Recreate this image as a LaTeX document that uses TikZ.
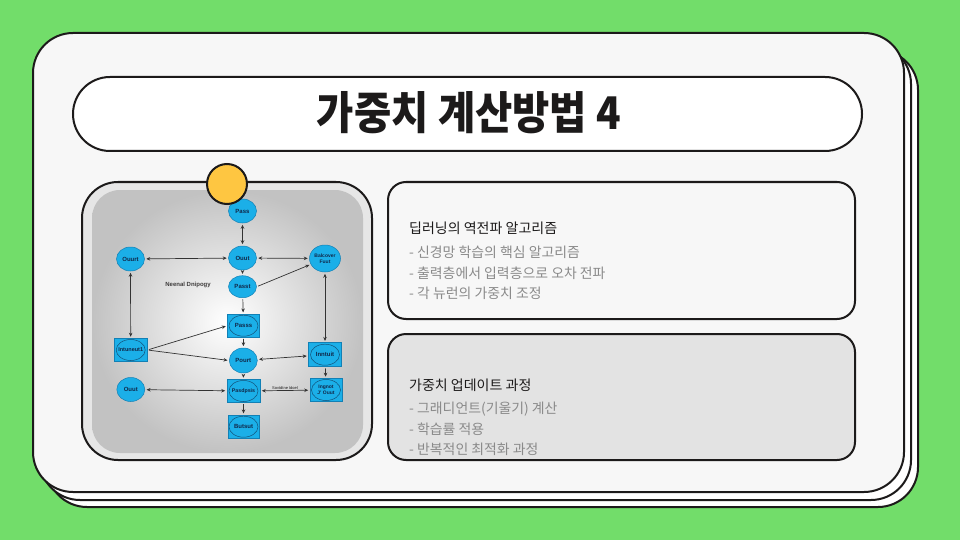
\documentclass[tikz,border=0pt]{standalone}
\usepackage{fontspec}
\setmainfont{Liberation Sans}
\newfontfamily\krfont{Noto Sans CJK KR}
\newfontfamily\krtitle{Noto Sans CJK KR Black}[FakeStretch=0.9]
\usetikzlibrary{shapes.geometric,arrows.meta}
\definecolor{bggreen}{HTML}{72DD6A}
\definecolor{cardfill}{HTML}{F7F7F7}
\definecolor{ink}{HTML}{1C1A1A}
\definecolor{boxtwo}{HTML}{E3E3E3}
\definecolor{panelfill}{HTML}{E6E6E6}
\definecolor{sun}{HTML}{FEC641}
\definecolor{nblue}{HTML}{1BAFE8}
\definecolor{nedge}{HTML}{1280B5}
\definecolor{ntext}{HTML}{10284A}
\definecolor{bulletgray}{HTML}{8A8A8A}
\definecolor{wire}{HTML}{333333}
\tikzset{
  card/.style={fill=cardfill, draw=ink, line width=2pt, rounded corners=40pt},
  infobox/.style={draw=ink, line width=2pt, rounded corners=18pt},
  ell/.style={ellipse, fill=nblue, draw=nedge, line width=0.5pt, minimum width=28pt, minimum height=24pt, inner sep=0pt,
    font=\fontsize{6}{6.5}\selectfont\bfseries, text=ntext, align=center},
  sqr/.style={rectangle, fill=nblue, draw=nedge, line width=0.5pt, minimum width=32pt, minimum height=23pt, inner sep=0pt,
    font=\fontsize{6}{6.5}\selectfont\bfseries, text=ntext, align=center,
    path picture={\draw[ntext!70!nblue, line width=0.5pt] (path picture bounding box.center) ellipse [x radius=14.5pt, y radius=10.5pt];}},
  wr/.style={draw=wire, line width=0.7pt, shorten >=1.5pt, shorten <=1.5pt},
  one/.style={wr, -{Stealth[length=4pt, width=3.5pt]}},
  two/.style={wr, {Stealth[length=4pt, width=3.5pt]}-{Stealth[length=4pt, width=3.5pt]}},
  headtxt/.style={anchor=west, inner sep=0pt, font=\krfont\fontsize{14}{16}\selectfont, text=ink},
  bultxt/.style={anchor=west, inner sep=0pt, font=\krfont\fontsize{13.9}{16}\selectfont, text=bulletgray}
}
\begin{document}
\begin{tikzpicture}[x=1pt, y=-1pt]
\fill[bggreen] (0,0) rectangle (960,540);
\useasboundingbox (0,0) rectangle (960,540);
% stacked cards
\draw[card, fill=white] (47,50) rectangle (918,507);
\draw[card, fill=white] (40,44) rectangle (911,500);
\draw[card] (33,33) rectangle (904,492);
% title pill
\draw[fill=white, draw=ink, line width=2pt, rounded corners=37pt] (73,77) rectangle (862,151);
\node[font=\krtitle\fontsize{45}{47}\selectfont, text=ink] (title) at (469,113) {가중치 계산방법 4};
% image panel
\draw[fill=panelfill, draw=ink, line width=2pt, rounded corners=36pt] (82,182) rectangle (372,460);
\shade[inner color=white, outer color=black!24, rounded corners=28pt] (92,190) rectangle (363,453);
% info boxes
\draw[infobox, fill=cardfill] (388,182) rectangle (855,319);
\draw[infobox, fill=boxtwo] (388,334) rectangle (855,460);
\node[headtxt] (h1) at (409,228) {딥러닝의 역전파 알고리즘};
\node[bultxt] (b11) at (409,252) {- 신경망 학습의 핵심 알고리즘};
\node[bultxt] (b12) at (409,273) {- 출력층에서 입력층으로 오차 전파};
\node[bultxt] (b13) at (409,293) {- 각 뉴런의 가중치 조정};
\node[headtxt] (h2) at (409,385) {가중치 업데이트 과정};
\node[bultxt] (b21) at (409,409) {- 그래디언트(기울기) 계산};
\node[bultxt] (b22) at (409,429) {- 학습률 적용};
\node[bultxt] (b23) at (409,449) {- 반복적인 최적화 과정};
% diagram nodes
\node[ell] (pass) at (242.5,211) {Pass};
\node[ell] (ouut) at (242.5,258) {Ouut};
\node[ell] (ouurt) at (130.5,259) {Ouurt};
\node[ell, minimum width=31pt, minimum height=27pt, font=\fontsize{5}{5.5}\selectfont\bfseries] (balc) at (325,258.5) {Balcover\\Fuut};
\node[ell, minimum height=22pt] (passt) at (242.5,286.7) {Passt};
\node[font=\fontsize{6}{6.5}\selectfont\bfseries, text=ink!85] (nd) at (188,284.5) {Neenal Dnipogy};
\node[sqr] (passs) at (243.5,325.7) {Passs};
\node[sqr, minimum width=33pt, font=\fontsize{5.5}{6}\selectfont\bfseries] (intu) at (130.7,350) {Intuneut1};
\node[ell, minimum height=25pt] (pourt) at (243.3,360.5) {Pourt};
\node[sqr, minimum width=33pt, minimum height=24pt] (innt) at (325,354.7) {Inntuit};
\node[ell] (ouutb) at (130.8,389.5) {Ouut};
\node[sqr, minimum width=33pt, font=\fontsize{5.3}{6}\selectfont\bfseries] (pasd) at (243.5,391) {Pasdpsis};
\node[sqr, font=\fontsize{5}{5.5}\selectfont\bfseries] (ingn) at (326,390) {Ingnot\\J' Ouut};
\node[sqr, minimum width=31pt] (buts) at (243.5,426.7) {Butsut};
% connectors
\draw[two] (pass) -- (ouut);
\draw[two] (ouurt) -- (ouut);
\draw[two] (ouut) -- (balc);
\draw[one] (ouut) -- (passt);
\draw[one] (passt.east) -- (balc);
\draw[one] (passt) -- (passs);
\draw[two] (ouurt) -- (intu);
\draw[one] (intu.east) -- (passs.west);
\draw[one] (intu.east) -- (pourt.west);
\draw[one] (passs) -- (pourt);
\draw[two] (balc) -- (innt);
\draw[two] (pourt) -- (innt);
\draw[one] (pourt) -- (pasd);
\draw[one] (innt) -- (ingn);
\draw[two] (ouutb) -- (pasd);
\draw[two] (pasd) -- node[above=0.3pt, font=\fontsize{4}{4.5}\selectfont, text=ink, inner sep=0.5pt] (lbl) {Sovtdtne Idoel} (ingn);
\draw[one] (pasd) -- (buts);
% yellow dot
\draw[fill=sun, draw=ink, line width=2pt] (227,184) circle [radius=20pt];
\end{tikzpicture}
\end{document}
